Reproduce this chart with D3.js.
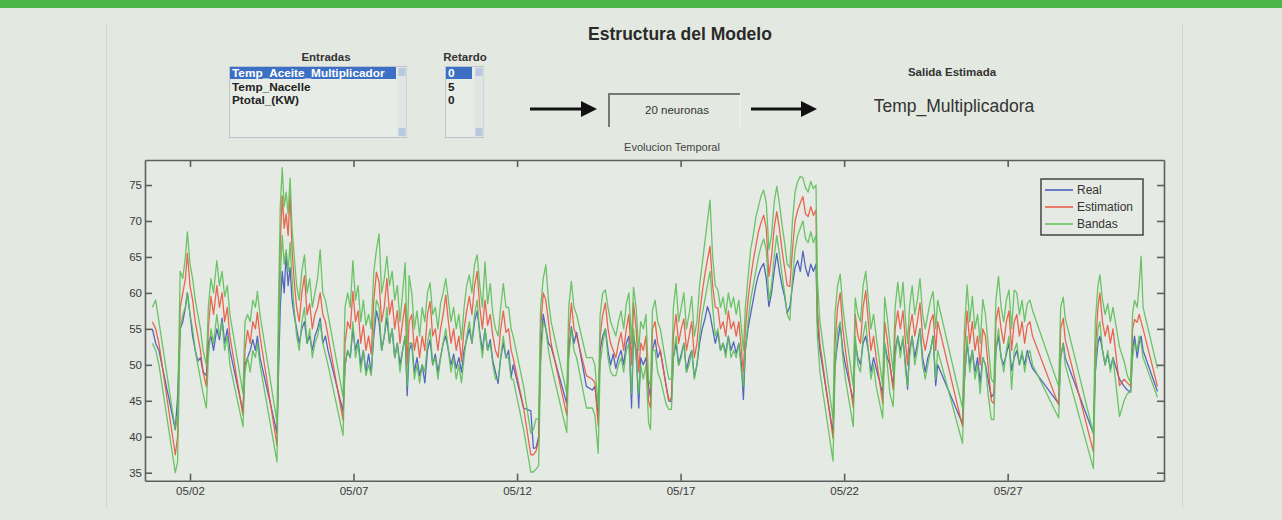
<!DOCTYPE html>
<html><head><meta charset="utf-8">
<script src="https://cdn.jsdelivr.net/npm/d3@7"></script>
<style>
html,body{margin:0;padding:0;background:#e3e8e1;overflow:hidden;}
svg{display:block;font-family:"Liberation Sans",Arial,sans-serif;}
</style></head><body>
<svg id="c" width="1282" height="520"></svg>
<script>
// ---- data (time = day of May 2013, fractional) ----
const times=[
0.85,0.95,1.05,1.55,1.62,
1.70,1.78,1.86,1.92,2.00,2.08,2.16,2.24,2.32,2.40,2.50,
2.56,2.64,2.72,2.82,2.90,2.98,3.06,3.14,3.22,3.62,
3.68,3.76,3.84,3.92,4.00,4.06,4.14,4.66,
4.70,4.76,4.82,4.88,4.94,5.00,5.06,5.12,5.18,5.26,5.34,5.42,5.50,5.58,5.66,5.74,5.82,5.90,5.98,6.06,6.14,6.22,6.68,
6.74,6.82,6.90,6.98, 7.06,7.14,7.22,7.30,7.38,7.46,7.54,7.62,7.70,7.78,7.86,7.94, 8.02,8.10,8.18,8.26,8.34,8.42,8.50,8.58,8.64,8.70,8.78,8.86,8.94, 9.02,9.10,9.18,9.26,9.34,9.42,9.50,9.58,9.66,9.74,9.82,9.90,9.98, 10.06,10.14,10.22,10.30,10.38,10.46,10.54,10.62,10.70,10.78,10.86,10.94, 11.02,11.10,11.18,11.26,11.34,11.42,11.50,11.58,11.66,11.74,11.82,11.88,
12.20,12.42,12.50,12.58,12.66,
12.72,12.80,12.88,12.96,13.04,13.52,
13.58,13.66,13.74,13.82,14.12,14.30,14.38,14.48,
14.54,14.62,14.70,14.78,14.86,14.94, 15.02,15.10,15.18,15.26,15.34,15.42,15.50,15.56,15.64,15.72,15.78,15.86,15.94, 16.02,16.08,16.14,16.22,16.30,16.38,16.56,16.64,16.72,
16.78,16.86,16.94, 17.02,17.10,17.18,17.26,17.34,17.42,17.50,17.58,17.66,17.74,17.82,17.90,17.98, 18.06,18.14,18.22,18.30,18.38,18.46,18.54,18.62,18.70,18.78,18.86,18.92,18.98, 19.06,19.14,19.22,19.30,19.38,19.46,19.54,19.62,19.70,19.78,19.86,19.94, 20.02,20.10,20.18,20.26,20.34,20.42,20.50,20.58,20.66,20.74,20.82,20.90,20.98, 21.06,21.14,21.18,21.26,21.66,
21.72,21.80,21.88,21.96,22.04,22.28,
22.34,22.42,22.50,22.58,22.66,22.74,22.82,22.90,22.98,23.18,
23.24,23.32,23.40,23.50,23.56,23.64,23.72,23.80,23.88,23.94, 24.00,24.08,24.16,24.24,24.32,24.40,24.48,24.56,24.64,24.72,24.80,24.86,25.62,
25.68,25.76,25.84,25.92,26.00,26.08,26.16,26.24,26.32,26.40,26.50,26.58,
26.64,26.72,26.80,26.88,26.96,27.04,27.12,27.20,27.28,27.36,27.44,27.52,27.60,27.68,27.76,28.56,
28.62,28.70,28.76,29.62,
29.68,29.76,29.82,29.90,29.98,30.06,30.14,30.22,30.42,30.56,30.66,30.76,
30.82,30.88,30.96,31.02,31.08,31.14,31.58];

const realValues=[
55,53,52,41,45.5,
55,56,58,60,57,54,52,50.5,51,49,48.5,
53,54,52,55,53.5,56.5,53,55,52,43.5,
50,51,52,53.5,52,54,51,40.5,
48,58,63,60,65.5,61,63.5,59,57,55,53,55,56,53,54,52,54,55,56.5,53,54,52,43.5,
50,52,51,55, 52,53.5,50,52,49,51.5,48.8,54,57.5,56,52,54, 56.5,53,55,51,53,50,52,54,45.7,52,53,49,51, 48.5,50,47.5,52,53.5,50,51.5,49,51,53,54,52,50, 51.5,49.5,51,49,52,53.5,55,53,56,57.5,54.5,52, 55,52,53.5,50.5,49,47.4,51,53,51,52,48.3,50,
44,43.6,38.4,38.5,40,
52,57,55,53,52.5,44.6,
52,55.3,53,54.5,47,46.5,47,43,
52,54,55,52,50,51.5, 49.5,51,52,50,53,54,44,54,52,44,51,50,51, 47,45.5,52,53.5,51,52,47,45,44.9,
51,53,50, 51.5,53,49,51,52,48.3,50,53,55,56.3,58.1,57,55, 53,54.5,52,53,51.6,54,52,53.2,51.6,53,50,45.2,52, 55,57,59,61,62.5,63.5,64.1,62,58.1,60,63,65.5, 63,61,59.5,57.2,58.1,61,63.5,64.5,63,65.8,63.5,62.3,64, 63,64,56,52,40.5,
50,53,55.6,52,50,45,
53,51,50,53,54,52,49,51,49.5,46,
53,51,50,47,52,54,52,53.5,50,46.6, 52,54,51,53,55,51,49,51,52,54,47.1,50,41.8,
48,53,50,52,49,51,47.5,51,50,48,45.5,46,
52,54,51,50,51.5,53,49.2,51,52,50,51.5,50,52,50.5,49.5,44.6,
51,53,51,40.5,
49,53,54,52,50,51.5,49.5,51,48,47,46.5,46.2,
52,54,51,53,54,52,46.3];

const estimation=[
56,55,53,37.5,40,
58,60,62,65.5,61,59,56,54,52,49,47,
55,59.5,57,61,58,60,56,58,54,43,
52,54.8,53,56,55,57.3,54,38.8,
52,67,73.5,69,71,68,73.8,66,62,58,56,60,62.4,57,58.5,55,57,58,60,57,56,54,42.3,
53,56,55,60.2, 56,57.5,53,55.5,52,54,51.5,59,62.9,61.5,56,58, 62,57,59,55,57.5,53,56,58.5,50,56,57,52,54, 51,54,52,57,58.8,54,55,52,55,57,59.7,56,53, 55,52,54,50.5,55,57.5,59.5,57,61,63,58,55, 59,55.5,57,54,52,51,55,57.5,54.5,55,52,51,
44,37.5,37.5,38,39.5,
55,60,59,56,53,43,
54,58.6,55,54,48.5,48,47.5,41.5,
54,57,58.6,55,53,52, 51,53,54.5,52,55,57,50,58.6,55,49,53,52,54, 45,44,55,56,53,52,47,45,45.5,
54,57,53, 55,56.4,52,54,56,51,53,57,60,62.5,64.6,66.5,61, 58,57.9,55,56,54,57.5,55,56,54,56,52,49,55, 59,62,64.5,66.5,68.5,69.8,70.8,69,62.3,65,69,71.3, 69,66,63.5,61,60.9,66,70,71.5,72.5,73.4,71,70.6,72, 70.8,71.5,58,53,39.8,
53,58,60,55,52,44,
57,54,53,58,60.3,56,52,54,51,44.6,
56,53.5,50,46.5,55,57.5,55,57.5,53,50, 55,57,54,56,58.6,54,52,54,56,57,52,56,41.4,
52,57.5,53,56,52,54,50,55,54,50,45,44.6,
56,58,55,53,56,57.5,52,56,57,54,56,53,55.5,56,54,44.4,
55,56.5,53.5,37.9,
52,58,60,56,54,55.5,53,55,47.1,48,47.5,47,
55,56.3,55.9,57,56,55,47];

const bandUpper=[
58,59,56,41,43,
63,62,65,68.5,64,62,59,57,55,52,50,
58,62,60,64.5,61,63,59.5,61,57,46,
56,57,56,59,58,60.2,57,42,
57,72,77.4,72,74,71,76,69,65.5,61,59,63,65.3,60,62,58,60,62,66,60,59,57,45.5,
58,60,58,64.5, 59,61,56,59,55.5,57,55,63,66,68.2,60,62, 65.1,61,63,59,61,56,60,64.2,53,62.4,60,55,57.5, 54,58,56,60,61.4,57,58,55,58.5,60,62,59,56, 58,55,57,53.5,58,61,62.5,60,64,65.3,61,58, 64.3,58.5,61.3,57,55,54,58,61.3,58,58,55,54,
47,40.5,41,42.5,42.5,
58,62,63.9,59,56,46,
58,61.6,58,57,51,51,50,44,
57,60,60.4,58,56,55, 54,56,57.5,55,58.5,60,53,60.8,58,52,56,55,57, 48,47,57.6,59,56,55,50,48,48,
58,61.3,56, 58,60,55,57,59.5,54,56,61,64,67,70,72.9,65, 61,60.4,58,59.4,57,60,58,59.4,57,59,55,52,58, 62,66,68,70.5,72,73.5,74.3,72.5,66,68,72.5,74.8, 72.5,69.5,67,64,63.5,70,74,75.5,76.2,76,74.6,74,75.5, 74.5,75,62,56,42.5,
57,61,62.6,58,55,47,
59.3,57,56,61,63,59,55,57,54,47,
59.4,56.5,53,49,58,61.5,58,61.5,56,53, 58,61,57,59,62,57,55,57,59,60.2,55,59,44,
55,61.1,56,59.5,55,57,53,59.1,57,53,48,47.5,
59,62.3,58,56,59,60.4,55,60.4,60,57,59,56,58.5,59,57.6,47,
58,59.4,56.5,40.5,
56,61,62.5,59,57,58.5,56,58,52.5,50.5,48.5,47.5,
57.2,59,58,61,65.1,58,49.5];

const bandLower=[
53,52,50,35,36.5,
55,57,58,60,57,55,52,50,48,46,44,
51,55,53,57,54,56,52,54,50,41.4,
49,51,49,52,51,53,50,36.5,
50,62,68,64,66,63,67,62,58,54,52,56,58,53,55,51,53,54,56,53,51.5,50,40.2,
50,52,51,56, 51,53,49,52,48.5,50,48.5,55,59,58,52,54, 58,53,55,51,53,49,52,54,47,53,53,48,50, 47.5,50,49,53,55,50,51,48,51,53,55,52,49, 51,48,50,47.5,51,54,56,53,57,59,54,51, 55,52,53,50,48,48,51,54,51,51,48,48,
41,35.1,35.1,35.5,36,
50,56,55,52,50,40.6,
51,55,52,51,44,44,43,37.7,
50,53,55,51,49,48.5, 48.5,50,51,49,52,53,46,55,51,46,50,48,50, 42,41,52,52,49,48,44.5,43.8,43.8,
51,54,49.9, 51,53,49,50,52,48,50,54,57,59,61,63,58, 54,55,52,53,51,54,51,52,51,53,49,47,52, 56,59,61,63,65,66.5,67.5,66,59,61,65,68, 65.5,62.5,60,57,56.2,62,66,68,69,70,67.5,67,68.5, 67,68,54,49,36.6,
49,55,56,51,48,41.4,
54,50,49,54,56,52,48,50,47,42.6,
53,50,46,44.2,51,54,51,54,49,47, 51,54,50,52,55,50,48,50,52,54,48,52,39.1,
48,54,49,52,48,50,46,51,50,46,42.4,42.4,
52,55,51,49,52,54,46.6,52,53,50,52,49,51.5,52,50,42.6,
51,53,50,35.6,
49,55,56,52,50,52,49,51,42.8,45,46,46.3,
51,53,52,54,53,51,45.5];

const yTicks=[35,40,45,50,55,60,65,70,75];
const xTickDays=[2,7,12,17,22,27];
const inputNames=["Temp_Aceite_Multiplicador","Temp_Nacelle","Ptotal_(KW)"];
const delays=["0","5","0"];
const legendLabels=["Real","Estimation","Bandas"];
const seriesColors=["#4256b8","#e8563e","#5cbf58"];

// ---- drawing ----
const svg=d3.select("#c");
const W=1282,H=520;
svg.append("rect").attr("width",W).attr("height",H).attr("fill","#e3e8e1");
svg.append("rect").attr("width",W).attr("height",8).attr("fill","#4cb748");
svg.append("line").attr("x1",106.5).attr("x2",106.5).attr("y1",23).attr("y2",508).attr("stroke","#d2d7d0");
svg.append("line").attr("x1",1182.5).attr("x2",1182.5).attr("y1",23).attr("y2",508).attr("stroke","#d2d7d0");

// header
svg.append("text").attr("x",680).attr("y",40).attr("text-anchor","middle")
  .attr("font-size",17.5).attr("font-weight","bold").attr("fill","#2a2a2a").text("Estructura del Modelo");
svg.append("text").attr("x",326).attr("y",61).attr("text-anchor","middle")
  .attr("font-size",11.5).attr("font-weight","bold").attr("fill","#333").text("Entradas");
svg.append("text").attr("x",465).attr("y",61).attr("text-anchor","middle")
  .attr("font-size",11.5).attr("font-weight","bold").attr("fill","#333").text("Retardo");
svg.append("text").attr("x",952).attr("y",76).attr("text-anchor","middle")
  .attr("font-size",11.5).attr("font-weight","bold").attr("fill","#333").text("Salida Estimada");
svg.append("text").attr("x",954).attr("y",112).attr("text-anchor","middle")
  .attr("font-size",17.5).attr("fill","#333").text("Temp_Multiplicadora");

function listbox(x0,w,items,hlW){
  const g=svg.append("g");
  g.append("rect").attr("x",x0+0.5).attr("y",66.5).attr("width",w).attr("height",71)
    .attr("fill","#e8ece6").attr("stroke","#b9c4cf");
  const sx=x0+w-9;
  g.append("rect").attr("x",sx+0.5).attr("y",67).attr("width",9).attr("height",70).attr("fill","#dfe5e2");
  g.append("rect").attr("x",sx+1.5).attr("y",68).attr("width",7).attr("height",8).attr("fill","#b8c8e0");
  g.append("rect").attr("x",sx+1.5).attr("y",128).attr("width",7).attr("height",8).attr("fill","#b8c8e0");
  g.append("rect").attr("x",x0+1).attr("y",67).attr("width",hlW).attr("height",12).attr("fill","#3d6fc4");
  items.forEach((t,i)=>{
    g.append("text").attr("x",x0+3).attr("y",77+i*13.5).attr("font-size",11.8).attr("font-weight","bold")
      .attr("fill",i===0?"#ffffff":"#222").text(t);
  });
}
listbox(229,177,inputNames,166);
listbox(445,38,delays,26);

function arrow(x1,x2,yy){
  svg.append("line").attr("x1",x1).attr("x2",x2-14).attr("y1",yy).attr("y2",yy).attr("stroke","#111").attr("stroke-width",3);
  svg.append("path").attr("d",`M${x2-16},${yy-8} L${x2},${yy} L${x2-16},${yy+8} Z`).attr("fill","#111");
}
arrow(530,597,109);
arrow(751,817,109);
svg.append("path").attr("d","M740,127 V93.5 H608.5 V127").attr("fill","none").attr("stroke","#f4f6f3").attr("stroke-width",1);
svg.append("path").attr("d","M609,127 V94 H740").attr("fill","none").attr("stroke","#777").attr("stroke-width",2);
svg.append("text").attr("x",677).attr("y",114).attr("text-anchor","middle").attr("font-size",11.5).attr("fill","#333").text("20 neuronas");
svg.append("text").attr("x",672).attr("y",151).attr("text-anchor","middle").attr("font-size",11).attr("fill","#444").text("Evolucion Temporal");

// chart
const pL=145,pR=1164,pT=160,pB=480.7;
const base=Date.UTC(2013,4,1);
const toDate=t=>new Date(base+(t-1)*864e5);
const x=d3.scaleUtc().domain([toDate(0.624),toDate(31.78)]).range([pL,pR]);
const y=d3.scaleLinear().domain([33.89,78.48]).range([pB,pT]);

svg.append("rect").attr("x",pL).attr("y",pT).attr("width",pR-pL).attr("height",pB-pT).attr("fill","#e6eae4");
svg.append("clipPath").attr("id","clip").append("rect").attr("x",pL).attr("y",pT).attr("width",pR-pL).attr("height",pB-pT);

const n=Math.min(times.length,realValues.length,estimation.length,bandUpper.length,bandLower.length);
const idx=d3.range(n);
const plotG=svg.append("g").attr("clip-path","url(#clip)");
const mk=arr=>d3.line().x(i=>x(toDate(times[i]))).y(i=>y(arr[i]));
[[realValues,seriesColors[0]],[estimation,seriesColors[1]],[bandUpper,seriesColors[2]],[bandLower,seriesColors[2]]]
 .forEach(([arr,c])=>{
  plotG.append("path").datum(idx).attr("d",mk(arr)).attr("fill","none").attr("stroke",c)
   .attr("stroke-width",1.3).attr("stroke-linejoin","round").attr("stroke-opacity",0.9);
 });

const fmt=d3.utcFormat("%m/%d");
const xTickDates=xTickDays.map(toDate);
const axStyle=g=>{g.selectAll("path,line").attr("stroke","#5e5e5e").attr("stroke-width",1.6);
  g.selectAll("text").attr("fill","#3a3a3a").attr("font-size",11.5).attr("font-family","Liberation Sans, Arial, sans-serif");};
svg.append("g").attr("transform",`translate(0,${pB})`)
  .call(d3.axisBottom(x).tickValues(xTickDates).tickFormat(fmt).tickSizeInner(-7).tickSizeOuter(0).tickPadding(6)).call(axStyle);
svg.append("g").attr("transform",`translate(0,${pT})`)
  .call(d3.axisTop(x).tickValues(xTickDates).tickFormat("").tickSizeInner(-7).tickSizeOuter(0)).call(axStyle);
svg.append("g").attr("transform",`translate(${pL},0)`)
  .call(d3.axisLeft(y).tickValues(yTicks).tickSizeInner(-7).tickSizeOuter(0).tickPadding(3)).call(axStyle);
svg.append("g").attr("transform",`translate(${pR},0)`)
  .call(d3.axisRight(y).tickValues(yTicks).tickFormat("").tickSizeInner(-7).tickSizeOuter(0)).call(axStyle);

// legend
const lg=svg.append("g");
lg.append("rect").attr("x",1041).attr("y",179).attr("width",102).attr("height",56).attr("fill","#e6eae4").attr("stroke","#444").attr("stroke-width",1.5);
legendLabels.forEach((lab,i)=>{
  const yy=190+i*17;
  lg.append("line").attr("x1",1045).attr("x2",1073).attr("y1",yy).attr("y2",yy).attr("stroke",seriesColors[i]).attr("stroke-width",1.5);
  lg.append("text").attr("x",1077).attr("y",yy+4).attr("font-size",12).attr("fill","#333").text(lab);
});
</script>
</body></html>
